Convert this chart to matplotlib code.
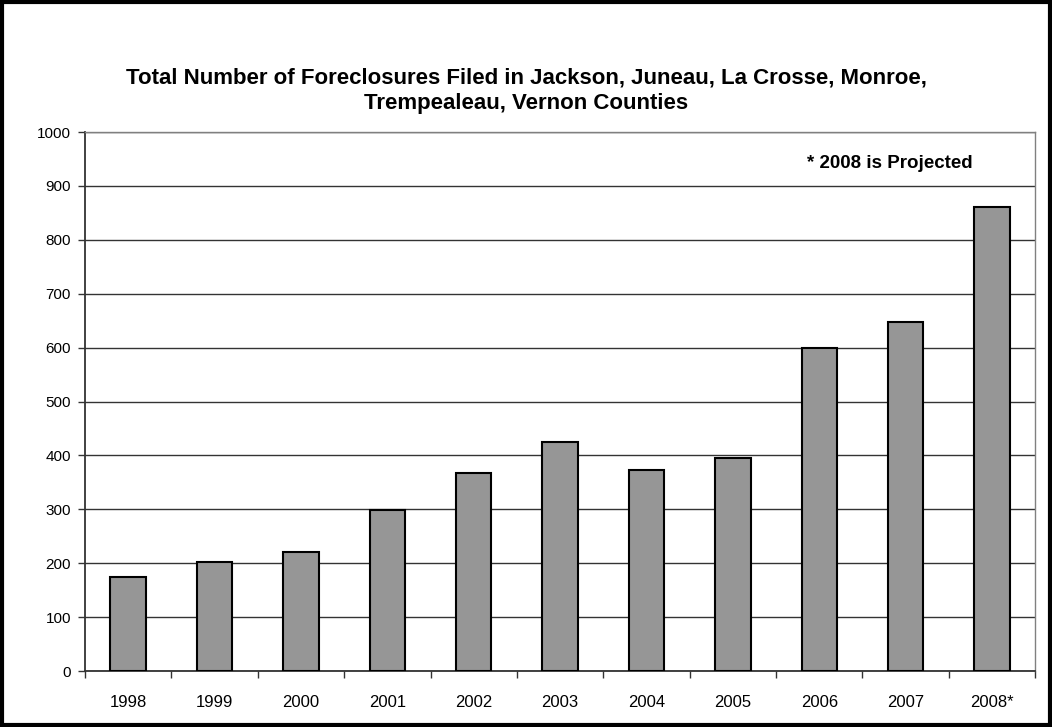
import numpy as np
import matplotlib.pyplot as plt
from matplotlib.patches import Rectangle

plt.rcParams['font.family'] = ['Liberation Sans', 'DejaVu Sans']

years = ['1998', '1999', '2000', '2001', '2002', '2003', '2004', '2005', '2006', '2007', '2008*']
filings = [175, 203, 220, 298, 367, 425, 373, 395, 600, 648, 861]

fig = plt.figure(figsize=(10.52, 7.27), dpi=100)
ax = fig.add_axes([0.0808, 0.077, 0.9032, 0.7414])

x = np.arange(len(years))
ax.bar(x, filings, width=0.41, color='#969696', edgecolor='black', linewidth=1.5, zorder=3)

ax.set_xlim(-0.5, len(years) - 0.5)
ax.set_ylim(0, 1000)
ax.set_yticks(np.arange(0, 1001, 100))
ax.set_xticks(x)
ax.set_xticklabels(years)
ax.set_xticks(np.arange(-0.5, len(years), 1), minor=True)

ax.tick_params(axis='x', which='major', length=0, pad=17, labelsize=12)
ax.tick_params(axis='x', which='minor', length=5, width=1, color='#333333')
ax.tick_params(axis='y', length=5, width=1, color='#333333', pad=5, labelsize=11)

ax.yaxis.grid(True, color='#333333', linewidth=1, zorder=0)
ax.set_axisbelow(True)

for side in ['left', 'bottom']:
    ax.spines[side].set_color('#333333')
    ax.spines[side].set_linewidth(1.3)
for side in ['top', 'right']:
    ax.spines[side].set_color('#808080')
    ax.spines[side].set_linewidth(1)

ax.text(7.86, 941, '* 2008 is Projected', fontsize=13.5, fontweight='bold', va='center', ha='left')

fig.text(0.5, 0.875, 'Total Number of Foreclosures Filed in Jackson, Juneau, La Crosse, Monroe,\nTrempealeau, Vernon Counties',
         ha='center', va='center', fontsize=16, fontweight='bold', linespacing=1.32)

# outer frame around the whole chart
fig.patches.append(Rectangle((0.002, 0.003), 0.996, 0.994, transform=fig.transFigure,
                             fill=False, edgecolor='black', linewidth=3))

fig.savefig('out.png', dpi=100)
